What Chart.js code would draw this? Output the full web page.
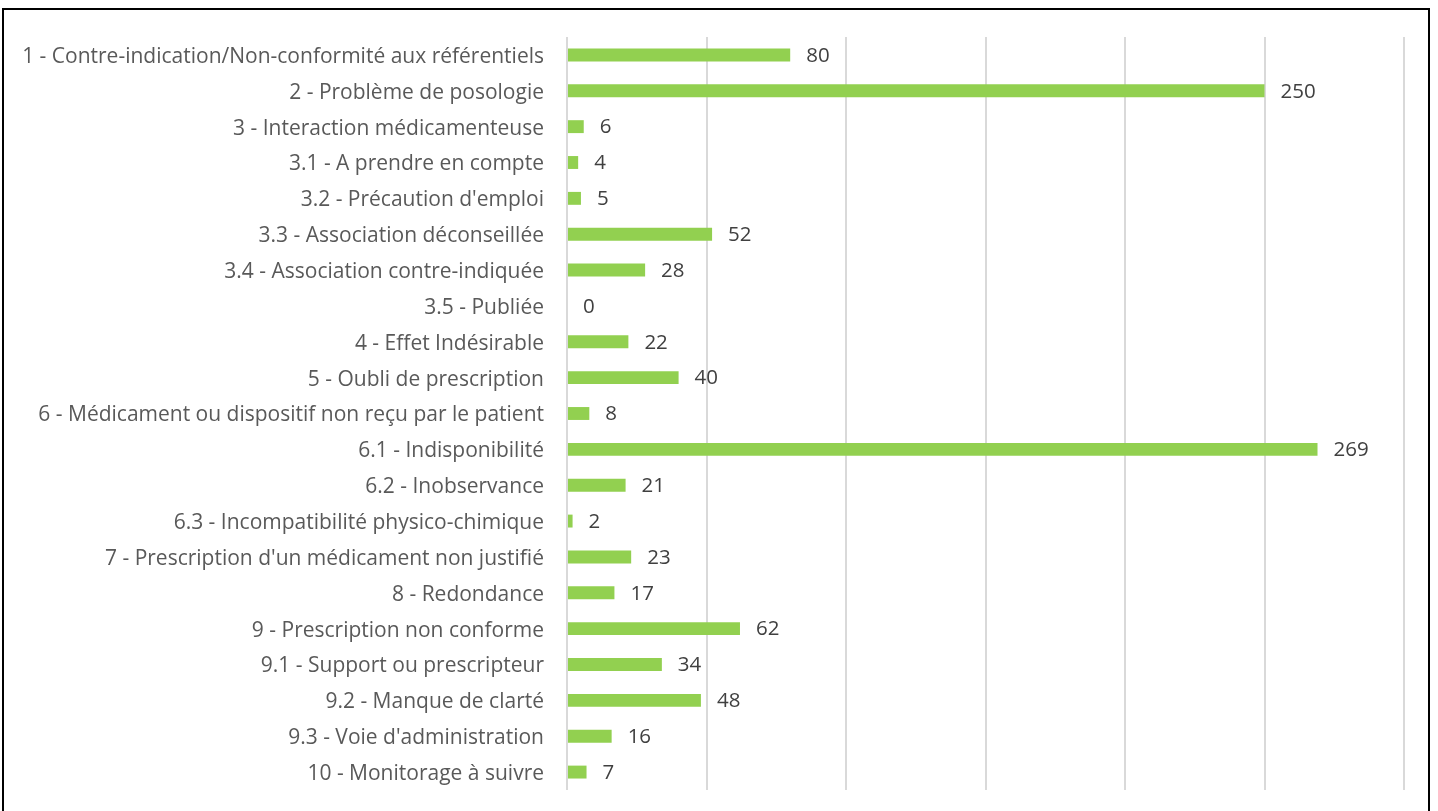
<!DOCTYPE html>
<html>
<head>
<meta charset="utf-8">
<script src="https://cdn.jsdelivr.net/npm/chart.js@4/dist/chart.umd.min.js"></script>
<style>
    html, body { margin: 0; padding: 0; background: #fff; overflow: hidden; }
    #wrap { position: relative; width: 1438px; height: 811px; }
    #frame { position: absolute; left: 2px; top: 8px; width: 1428px; height: 820px; border: 2px solid #000; box-sizing: border-box; }
    canvas { position: absolute; left: 0; top: 0; }
</style>
</head>
<body>
<div id="wrap">
    <div id="frame"></div>
    <canvas id="barChart" width="1438" height="811"></canvas>
</div>
<script>
// Categories and counts
const categories = [
    "1 - Contre-indication/Non-conformité aux référentiels",
    "2 - Problème de posologie",
    "3 - Interaction médicamenteuse",
    "3.1 - A prendre en compte",
    "3.2 - Précaution d'emploi",
    "3.3 - Association déconseillée",
    "3.4 - Association contre-indiquée",
    "3.5 - Publiée",
    "4 - Effet Indésirable",
    "5 - Oubli de prescription",
    "6 - Médicament ou dispositif non reçu par le patient",
    "6.1 - Indisponibilité",
    "6.2 - Inobservance",
    "6.3 - Incompatibilité physico-chimique",
    "7 - Prescription d'un médicament non justifié",
    "8 - Redondance",
    "9 - Prescription non conforme",
    "9.1 - Support ou prescripteur",
    "9.2 - Manque de clarté",
    "9.3 - Voie d'administration",
    "10 - Monitorage à suivre"
];
const counts = [80, 250, 6, 4, 5, 52, 28, 0, 22, 40, 8, 269, 21, 2, 23, 17, 62, 34, 48, 16, 7];

const axisMin = 0;
const axisMax = 300;
const axisStep = 50;

const fontFamily = "'Open Sans', Lato, sans-serif";

// draws the value next to each bar
const valueLabels = {
    id: "valueLabels",
    afterDatasetsDraw(chart) {
        const ctx = chart.ctx;
        const meta = chart.getDatasetMeta(0);
        const xScale = chart.scales.x;
        ctx.save();
        ctx.font = "20.5px " + fontFamily;
        ctx.fillStyle = "#404040";
        ctx.textAlign = "left";
        ctx.textBaseline = "middle";
        meta.data.forEach((bar, i) => {
            const end = xScale.getPixelForValue(counts[i]);
            ctx.fillText(String(counts[i]), end + 16, bar.y + 1);
        });
        ctx.restore();
    }
};

new Chart(document.querySelector("#barChart"), {
    type: "bar",
    data: {
        labels: categories,
        datasets: [{
            data: counts,
            backgroundColor: "#92d050",
            borderWidth: 0,
            categoryPercentage: 1,
            barPercentage: 0.36
        }]
    },
    options: {
        indexAxis: "y",
        responsive: false,
        animation: false,
        layout: { padding: { top: 37, right: 34, bottom: 21, left: 0 } },
        plugins: {
            legend: { display: false },
            tooltip: { enabled: false }
        },
        scales: {
            x: {
                min: axisMin,
                max: axisMax,
                afterFit(scale) { scale.height = 0; },
                ticks: { display: false, stepSize: axisStep },
                grid: { color: "#d9d9d9", lineWidth: 2, drawTicks: false },
                border: { display: false }
            },
            y: {
                afterFit(scale) {
                    scale.width = 567;
                    scale.paddingTop = 0;
                    scale.paddingBottom = 0;
                },
                ticks: {
                    color: "#595959",
                    font: { family: fontFamily, size: 21 },
                    padding: 23,
                    labelOffset: 2,
                    autoSkip: false
                },
                grid: { display: false, drawTicks: false },
                border: { display: false }
            }
        }
    },
    plugins: [valueLabels]
});
</script>
</body>
</html>
